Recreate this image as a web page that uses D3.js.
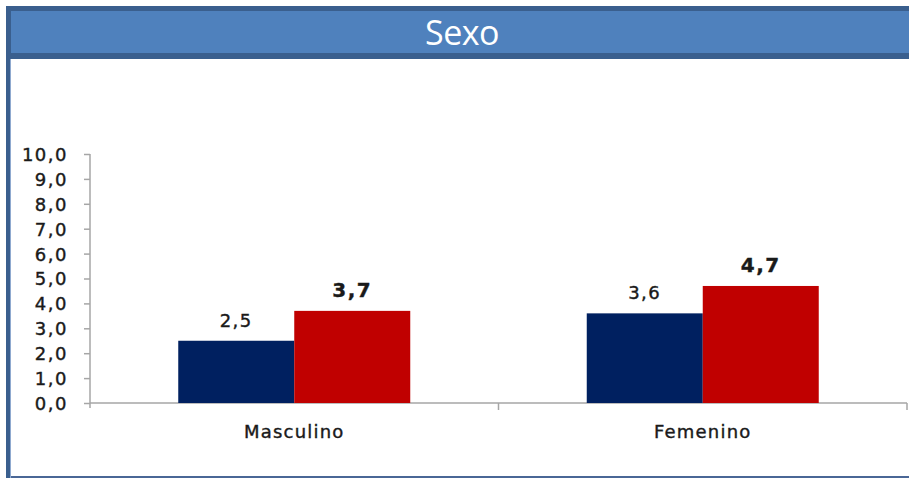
<!DOCTYPE html>
<html>
<head>
<meta charset="utf-8">
<script src="https://cdn.jsdelivr.net/npm/d3@7"></script>
<style>
  html, body { margin: 0; padding: 0; background: #ffffff; }
  svg { display: block; }
</style>
</head>
<body>
<script>
// Chart data
const title = "Sexo";
const categories = ["Masculino", "Femenino"];
const seriesNames = ["Serie 1", "Serie 2"];
const series1 = [2.5, 3.6];
const series2 = [3.7, 4.7];
const yTicks = [0, 1, 2, 3, 4, 5, 6, 7, 8, 9, 10];

const W = 909, H = 478;
const svg = d3.select("body").append("svg").attr("width", W).attr("height", H);

// Frame: header band with title, left rule and bottom rule
svg.append("rect").attr("x", 6).attr("y", 6).attr("width", W - 6).attr("height", 53).attr("fill", "#3A5F8E");
svg.append("rect").attr("x", 11).attr("y", 11).attr("width", W - 11).attr("height", 42).attr("fill", "#4F81BD");
svg.append("rect").attr("x", 6).attr("y", 59).attr("width", 5).attr("height", H - 59).attr("fill", "#3A5F8E");
svg.append("rect").attr("x", 10).attr("y", 59).attr("width", 1).attr("height", H - 59).attr("fill", "#8FA9CF");
svg.append("rect").attr("x", 11).attr("y", 476).attr("width", W - 11).attr("height", 2).attr("fill", "#4A6796");

svg.append("text")
  .attr("x", 462).attr("y", 45)
  .attr("text-anchor", "middle")
  .attr("font-family", "Open Sans, sans-serif")
  .attr("font-size", 34)
  .attr("letter-spacing", "-0.5px")
  .attr("fill", "#ffffff")
  .text(title);

// Scales
const plot = { left: 90, right: 907, top: 154, bottom: 403 };
const x0 = d3.scaleBand().domain(categories).range([plot.left, plot.right]).padding(0);
const groupW = 232;
const x1 = d3.scaleBand().domain(seriesNames)
  .range([(x0.bandwidth() - groupW) / 2, (x0.bandwidth() + groupW) / 2]).padding(0);
const y = d3.scaleLinear().domain([0, 10]).range([plot.bottom, plot.top]);

const fmt = v => d3.format(".1f")(v).replace(".", ",");
const axisColor = "#A6A6A6";
const font = "DejaVu Sans, Verdana, sans-serif";
const ink = "#1a1a1a";

// Slightly heavier glyphs for the labels
function heavy(sel, w) {
  sel.attr("fill", ink).attr("stroke", ink).attr("stroke-width", w).attr("paint-order", "stroke");
}

// Y axis
const yAxis = svg.append("g").attr("transform", `translate(${plot.left},0)`)
  .call(d3.axisLeft(y).tickValues(yTicks).tickSize(6).tickPadding(16).tickFormat(fmt));
yAxis.select(".domain").attr("stroke", axisColor).attr("stroke-width", 1.5)
  .attr("d", `M0,${plot.top}V${plot.bottom + 5}`);
yAxis.selectAll(".tick line").attr("stroke", axisColor).attr("stroke-width", 1.5);
yAxis.selectAll(".tick text")
  .attr("font-family", font).attr("font-size", 18).attr("letter-spacing", "1.5px")
  .attr("dy", "0.36em")
  .call(heavy, 0.4);

// X axis
const xAxis = svg.append("g").attr("transform", `translate(0,${plot.bottom})`);
xAxis.append("line").attr("x1", plot.left).attr("x2", plot.right).attr("y1", 0).attr("y2", 0)
  .attr("stroke", axisColor).attr("stroke-width", 1.5);
const boundaries = categories.map(c => x0(c) + x0.bandwidth());
xAxis.selectAll("line.sep").data(boundaries).join("line").attr("class", "sep")
  .attr("x1", d => d).attr("x2", d => d).attr("y1", 0).attr("y2", 7)
  .attr("stroke", axisColor).attr("stroke-width", 1.5);
xAxis.selectAll("text.cat").data(categories).join("text").attr("class", "cat")
  .attr("x", d => x0(d) + x0.bandwidth() / 2).attr("y", 35)
  .attr("text-anchor", "middle")
  .attr("font-family", font).attr("font-size", 18).attr("letter-spacing", "1.2px")
  .text(d => d)
  .call(heavy, 0.4);

// Bars
const rows = categories.map((c, i) => ({ cat: c, vals: [
  { s: seriesNames[0], v: series1[i], color: "#002060", bold: false },
  { s: seriesNames[1], v: series2[i], color: "#C00000", bold: true }
]}));

const groups = svg.selectAll("g.grp").data(rows).join("g").attr("class", "grp")
  .attr("transform", d => `translate(${x0(d.cat)},0)`);

groups.selectAll("rect").data(d => d.vals).join("rect")
  .attr("x", d => x1(d.s)).attr("width", x1.bandwidth())
  .attr("y", d => y(d.v)).attr("height", d => y(0) - y(d.v))
  .attr("fill", d => d.color);

groups.selectAll("text").data(d => d.vals).join("text")
  .attr("x", d => x1(d.s) + x1.bandwidth() / 2)
  .attr("y", d => y(d.v) - 14)
  .attr("text-anchor", "middle")
  .attr("font-family", font)
  .attr("font-size", d => d.bold ? 20 : 18)
  .attr("font-weight", d => d.bold ? "bold" : "normal")
  .attr("letter-spacing", "1.5px")
  .text(d => fmt(d.v))
  .call(heavy, 0.4);
</script>
</body>
</html>
